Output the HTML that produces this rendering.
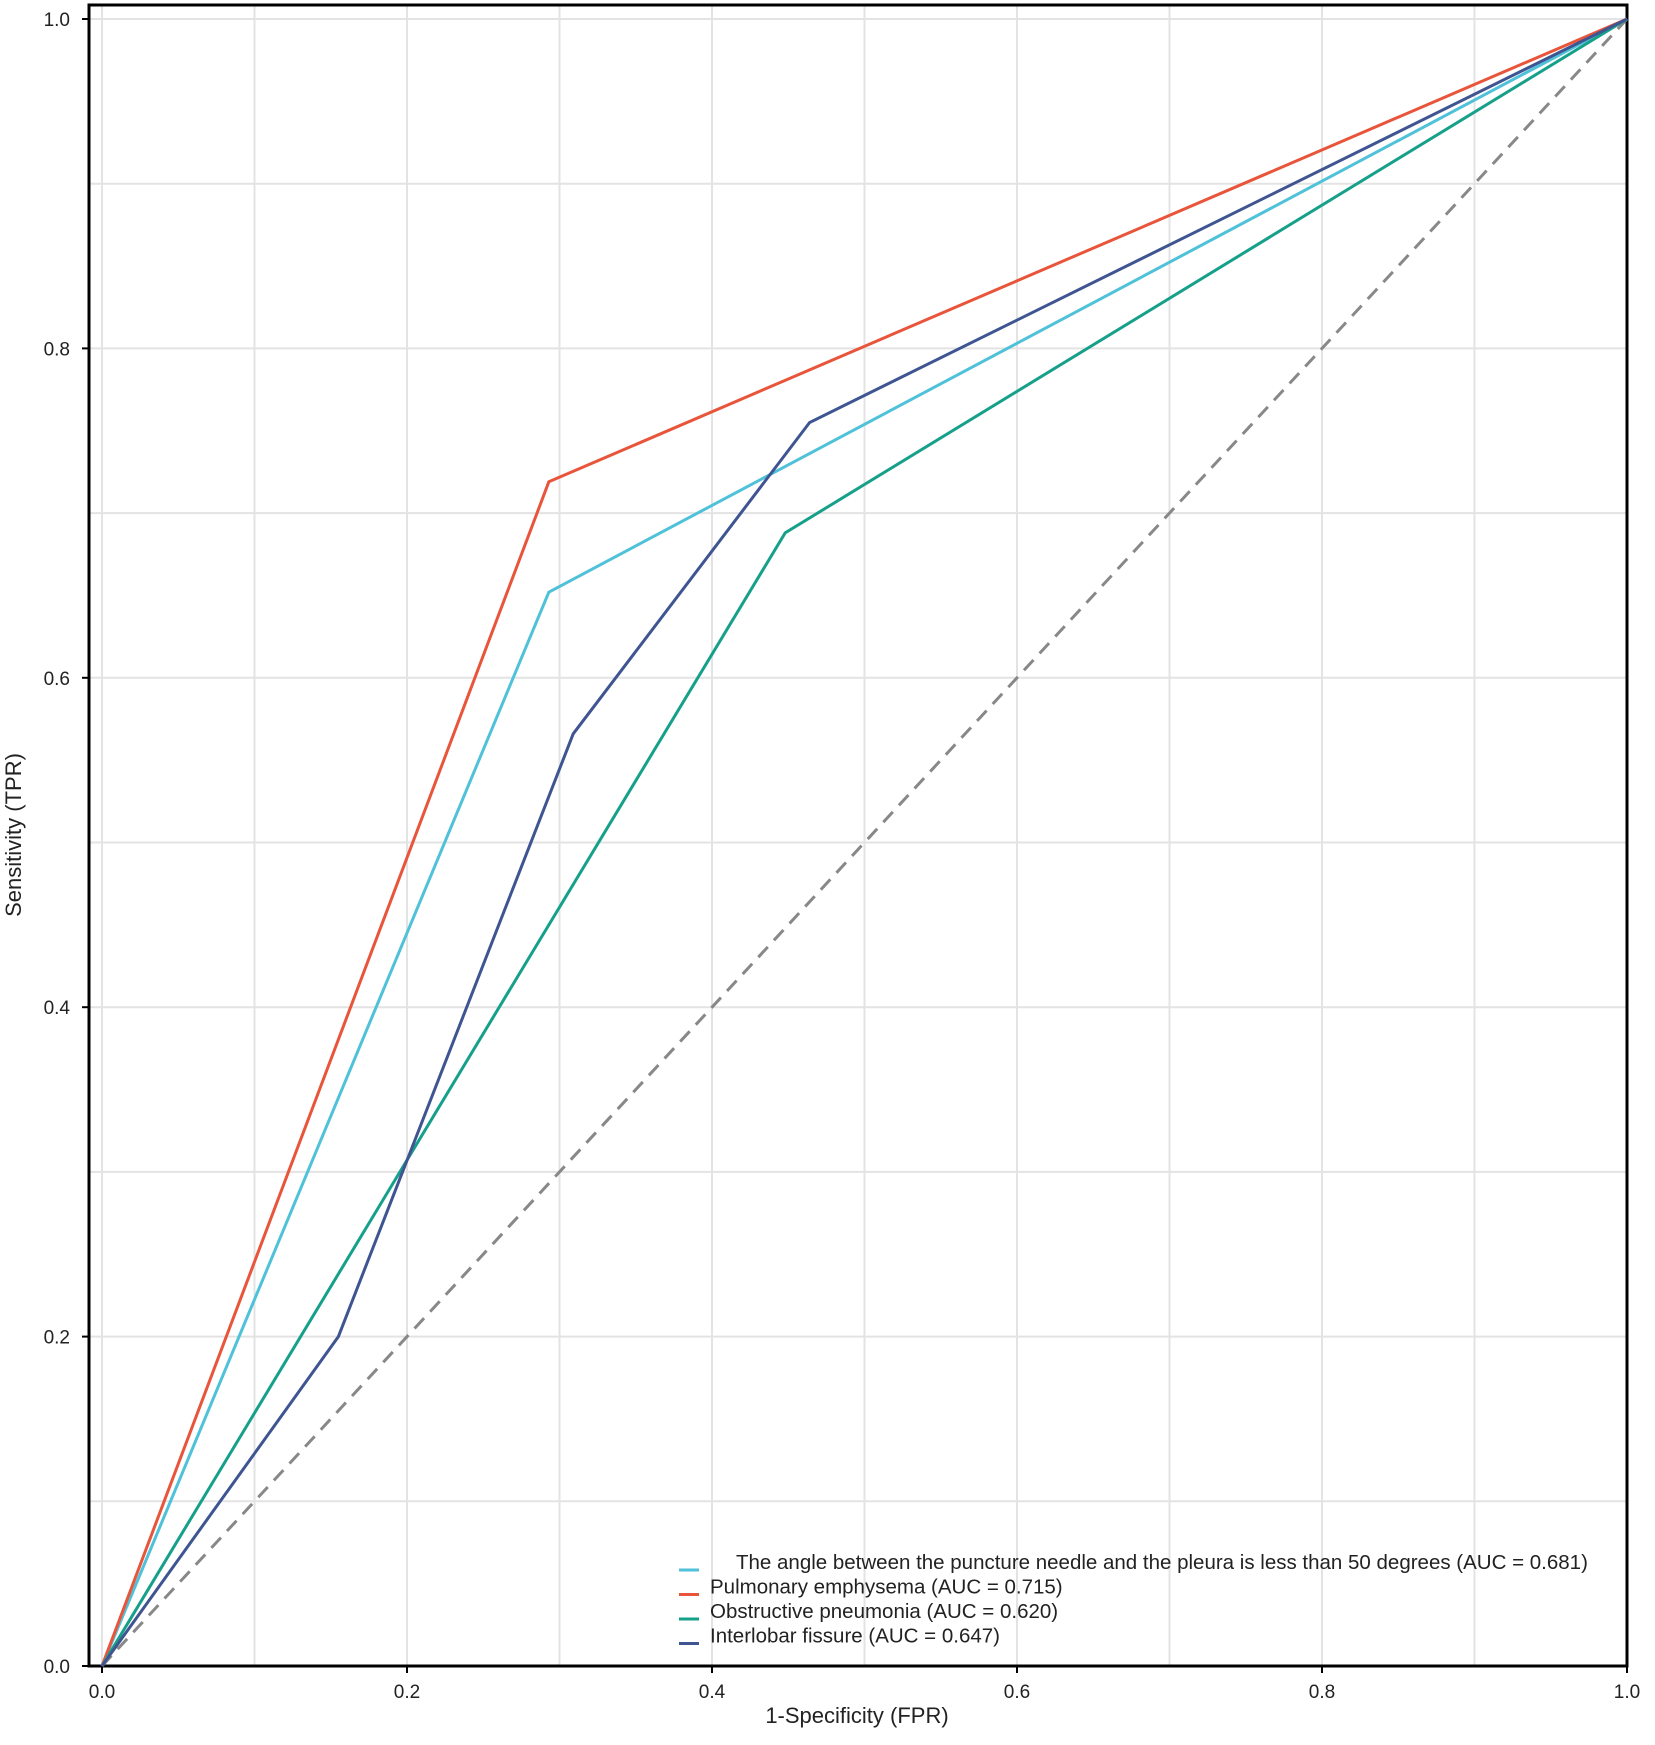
<!DOCTYPE html>
<html><head><meta charset="utf-8"><style>
body{margin:0;background:#fff;}
svg{display:block;font-family:"Liberation Sans",sans-serif;}
</style></head><body>
<svg id="chart" width="1655" height="1745"></svg>
<script>
const series = ["The angle between the puncture needle and the pleura is less than 50 degrees (AUC = 0.681)","Pulmonary emphysema (AUC = 0.715)","Obstructive pneumonia (AUC = 0.620)","Interlobar fissure (AUC = 0.647)"];
const colors = ["#4fc1d9","#e8553a","#16a08a","#3f5592"];
const fprAngle = [0,0.293,1], tprAngle = [0,0.652,1];
const fprEmph = [0,0.293,1], tprEmph = [0,0.719,1];
const fprObst = [0,0.448,1], tprObst = [0,0.688,1];
const fprFiss = [0,0.155,0.309,0.464,1], tprFiss = [0,0.2,0.566,0.755,1];
const ticks = [0,0.2,0.4,0.6,0.8,1.0];
const tickLabels = ["0.0","0.2","0.4","0.6","0.8","1.0"];

const NS="http://www.w3.org/2000/svg";
const svg=document.getElementById('chart');
const X0=102,X1=1627,Y0=1666,Y1=19;
const sx=v=>X0+(X1-X0)*v, sy=v=>Y0-(Y0-Y1)*v;
function mk(t,a){const e=document.createElementNS(NS,t);for(const k in a)e.setAttribute(k,a[k]);svg.appendChild(e);return e;}
for(let i=0;i<=10;i++){const v=i/10;
 let g=mk('line',{x1:sx(v),x2:sx(v),y1:5,y2:Y0,stroke:'#e3e3e3','stroke-width':2});
 
 
 g=mk('line',{x1:89,x2:X1,y1:sy(v),y2:sy(v),stroke:'#e3e3e3','stroke-width':2});
 
 
}
let fr=mk('rect',{x:89,y:5,width:X1-89,height:Y0-5,fill:'none',stroke:'#000','stroke-width':3});


ticks.forEach((v,i)=>{
 let t=mk('line',{x1:sx(v),x2:sx(v),y1:Y0,y2:Y0+7,stroke:'#000','stroke-width':2});
 
 
 t=mk('line',{x1:82,x2:89,y1:sy(v),y2:sy(v),stroke:'#000','stroke-width':2});
 
 
 let l=mk('text',{x:sx(v),y:Y0+32,'text-anchor':'middle','font-size':19,fill:'#222'});l.textContent=tickLabels[i];
 
 
 l=mk('text',{x:70,y:sy(v)+7,'text-anchor':'end','font-size':19,fill:'#222'});l.textContent=tickLabels[i];
 
 
});
let d=mk('line',{x1:sx(0),y1:sy(0),x2:sx(1),y2:sy(1),stroke:'#888','stroke-width':3,'stroke-dasharray':'14,9'});


const data=[[fprAngle,tprAngle],[fprEmph,tprEmph],[fprObst,tprObst],[fprFiss,tprFiss]];
const names=['roc-angle','roc-emphysema','roc-obstructive-pneumonia','roc-interlobar-fissure'];
data.forEach((s,k)=>{
 const p=mk('polyline',{points:s[0].map((x,i)=>sx(x)+','+sy(s[1][i])).join(' '),fill:'none',stroke:colors[k],'stroke-width':3});
 
 
});
series.forEach((s,k)=>{
 const y=1570+k*24.5;
 let l=mk('line',{x1:679,x2:699,y1:y,y2:y,stroke:colors[k],'stroke-width':3});
 
 
 let t=mk('text',{x:k==0?736:710,y:y-1,'font-size':20.5,fill:'#222'});t.textContent=s;
 
 
});
let xt=mk('text',{x:857,y:1723,'text-anchor':'middle','font-size':22,fill:'#222'});xt.textContent='1-Specificity (FPR)';


let yt=mk('text',{x:0,y:0,'text-anchor':'middle','font-size':22,fill:'#222',transform:'translate(21,835) rotate(-90)'});yt.textContent='Sensitivity (TPR)';


</script>
</body></html>
